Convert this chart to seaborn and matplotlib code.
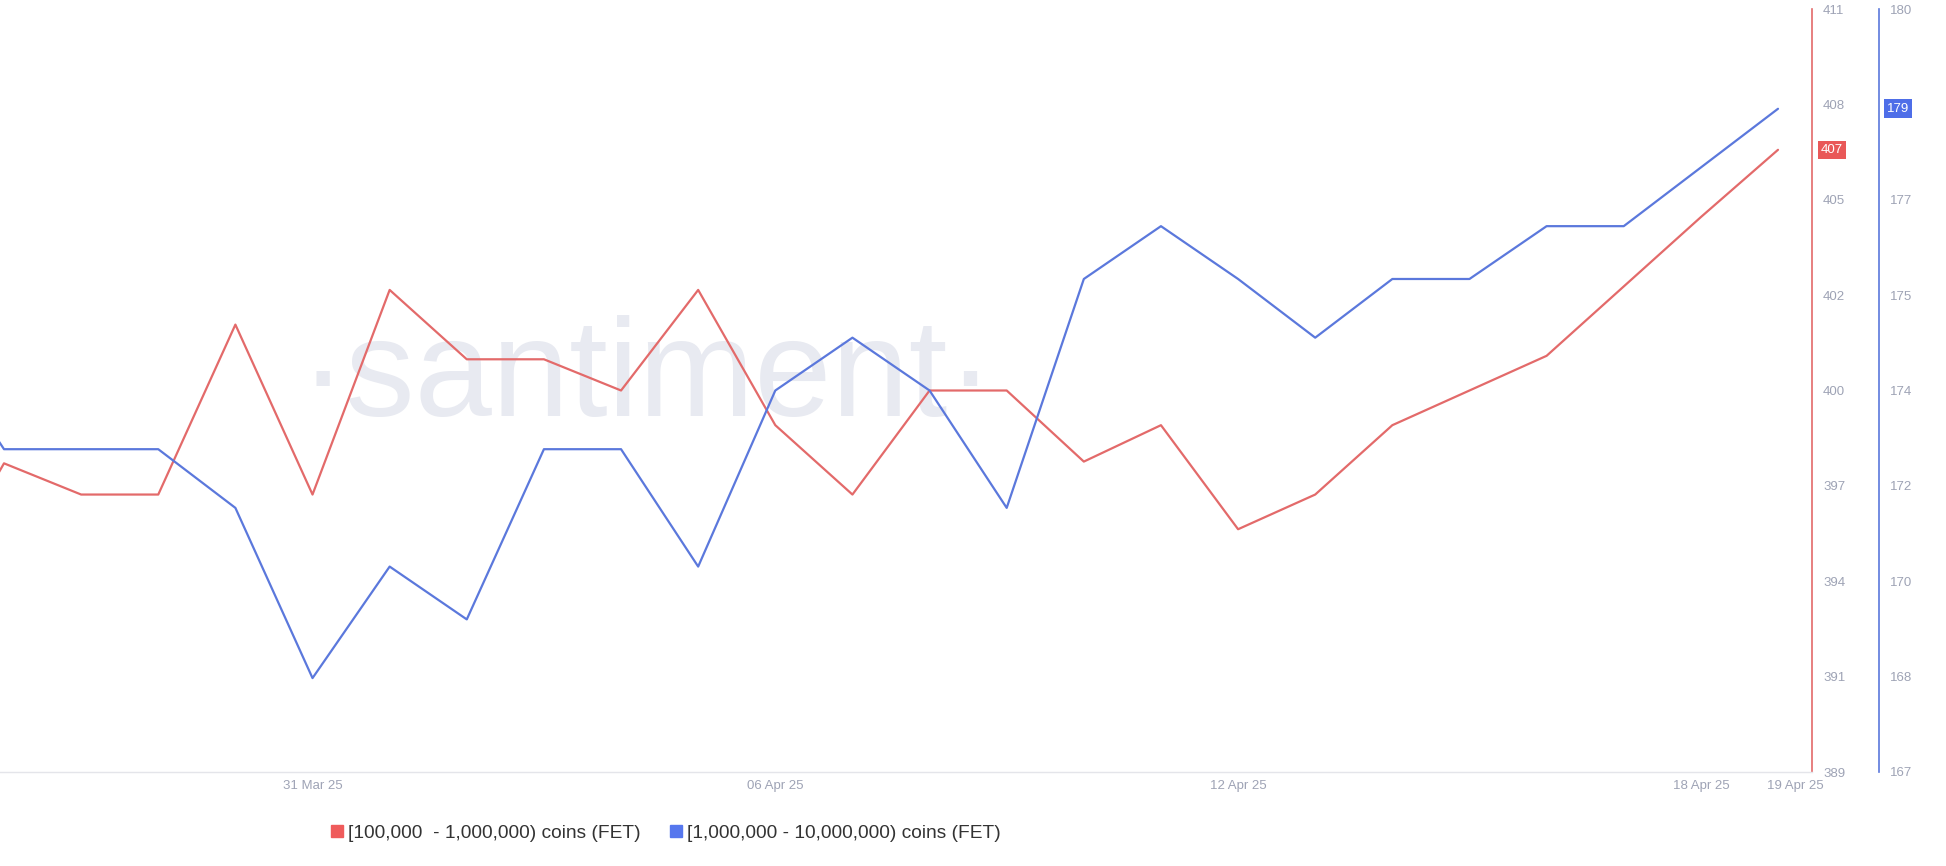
import math
import numpy as np
import pandas as pd
import matplotlib
matplotlib.use("Agg")
import matplotlib.pyplot as plt
import matplotlib.transforms as mtrans
from matplotlib.lines import Line2D
import seaborn as sns

# ---------------- data ----------------
dates = pd.date_range("2025-03-26", "2025-04-19", freq="D")
red_values = [394.0, 397.9, 397.0, 397.0, 401.9, 397.0, 402.9, 400.9, 400.9, 400.0,
              402.9, 399.0, 397.0, 400.0, 400.0, 397.95, 399.0, 396.0, 397.0, 399.0,
              400.0, 401.0, 403.0, 405.0, 406.94]
blue_values = [174.5, 172.5, 172.5, 172.5, 171.5, 168.6, 170.5, 169.6, 172.5, 172.5,
               170.5, 173.5, 174.4, 173.5, 171.5, 175.4, 176.3, 175.4, 174.4, 175.4,
               175.4, 176.3, 176.3, 177.3, 178.3]
red_name = "[100,000  - 1,000,000) coins (FET)"
blue_name = "[1,000,000 - 10,000,000) coins (FET)"
xtick_dates = ["2025-03-31", "2025-04-06", "2025-04-12", "2025-04-18", "2025-04-19"]
xtick_labels = ["31 Mar 25", "06 Apr 25", "12 Apr 25", "18 Apr 25", "19 Apr 25"]
red_ticklabels = ["389", "391", "394", "397", "400", "402", "405", "408", "411"]
blue_ticklabels = ["167", "168", "170", "172", "174", "175", "177", "179", "180"]
red_range = (389, 411)
blue_range = (167, 180)

# ---------------- style ----------------
sns.set_theme(style="white")
base_family = ["Liberation Sans", "DejaVu Sans"]
plt.rcParams["font.family"] = base_family

RED = "#e36a6a"
BLUE = "#5b78dc"
TICK_COLOR = "#9ea3b5"

W, H = 1946, 866
fig = plt.figure(figsize=(W / 100, H / 100), dpi=100)
left_px, right_px, top_px, bottom_px = 0, 1812, 9, 772
ax = fig.add_axes([left_px / W, 1 - bottom_px / H, (right_px - left_px) / W, (bottom_px - top_px) / H])
ax.set_facecolor("white")
ax2 = ax.twinx()

df = pd.DataFrame({"date": dates, "red": red_values, "blue": blue_values})

# watermark
ax.text(0.357, 0.4666, "·santiment·", transform=ax.transAxes, ha="center", va="baseline",
        fontsize=100, color="#e8eaf1", family=base_family, zorder=0)

sns.lineplot(data=df, x="date", y="red", ax=ax, color=RED, linewidth=1.6, zorder=3)
sns.lineplot(data=df, x="date", y="blue", ax=ax2, color=BLUE, linewidth=1.6, zorder=3)

# x range
start = pd.Timestamp("2025-03-27")
day_px = (1778 - 4) / 23.0
x0 = start - pd.Timedelta(days=4 / day_px)
x1 = start + pd.Timedelta(days=(1812 - 4) / day_px)
ax.set_xlim(x0, x1)

ax.set_ylim(*red_range)
ax2.set_ylim(*blue_range)

# y ticks on right
red_ticks = np.linspace(red_range[0], red_range[1], len(red_ticklabels))
blue_ticks = np.linspace(blue_range[0], blue_range[1], len(blue_ticklabels))
ax.yaxis.tick_right()
ax.set_yticks(red_ticks)
ax.set_yticklabels(red_ticklabels)
ax2.set_yticks(blue_ticks)
ax2.set_yticklabels(blue_ticklabels)
lab_size = 9.5
for a in (ax, ax2):
    a.tick_params(axis="y", length=0, pad=8, labelsize=lab_size, labelcolor=TICK_COLOR)
    a.set_ylabel("")
    a.set_xlabel("")
    a.grid(False)
    for s in ("top", "left"):
        a.spines[s].set_visible(False)

ax.spines["right"].set_color(RED)
ax.spines["right"].set_linewidth(1.2)
ax.spines["bottom"].set_color("#e4e5ea")
ax.spines["bottom"].set_linewidth(1.0)
ax2.spines["bottom"].set_visible(False)
ax2.spines["right"].set_position(("axes", 1879 / 1812))
ax2.spines["right"].set_color(BLUE)
ax2.spines["right"].set_linewidth(1.2)

# x ticks
ax.set_xticks(pd.to_datetime(xtick_dates))
ax.set_xticklabels(xtick_labels)
ax.tick_params(axis="x", length=0, pad=6, labelsize=lab_size, labelcolor=TICK_COLOR)
xl = ax.get_xticklabels()
xl[-1].set_transform(xl[-1].get_transform() + mtrans.ScaledTranslation(17 / 100, 0, fig.dpi_scale_trans))

# value boxes
ax.annotate(f"{math.ceil(red_values[-1])}", xy=(1.0, red_values[-1]), xycoords=("axes fraction", "data"),
            xytext=(20, 0), textcoords="offset pixels", ha="center", va="center",
            fontsize=lab_size, color="white", zorder=10, annotation_clip=False,
            bbox=dict(boxstyle="square,pad=0.25", fc="#e95858", ec="none"))
ax2.annotate(f"{math.ceil(blue_values[-1])}", xy=(1879 / 1812, blue_values[-1]), xycoords=("axes fraction", "data"),
             xytext=(19, 0), textcoords="offset pixels", ha="center", va="center",
             fontsize=lab_size, color="white", zorder=10, annotation_clip=False,
             bbox=dict(boxstyle="square,pad=0.25", fc="#4e6ee8", ec="none"))

# legend
handles = [Line2D([], [], marker="s", linestyle="none", markersize=9, color="#ef5b5b"),
           Line2D([], [], marker="s", linestyle="none", markersize=9, color="#5677ee")]
fig.legend(handles, [red_name, blue_name], loc="center", bbox_to_anchor=(666 / W, 1 - 833 / H),
           ncol=2, frameon=False, fontsize=13.8, handlelength=0.6, handletextpad=0.3,
           columnspacing=1.5, labelcolor="#333333")

fig.savefig("out.png", dpi=100, facecolor="white")
